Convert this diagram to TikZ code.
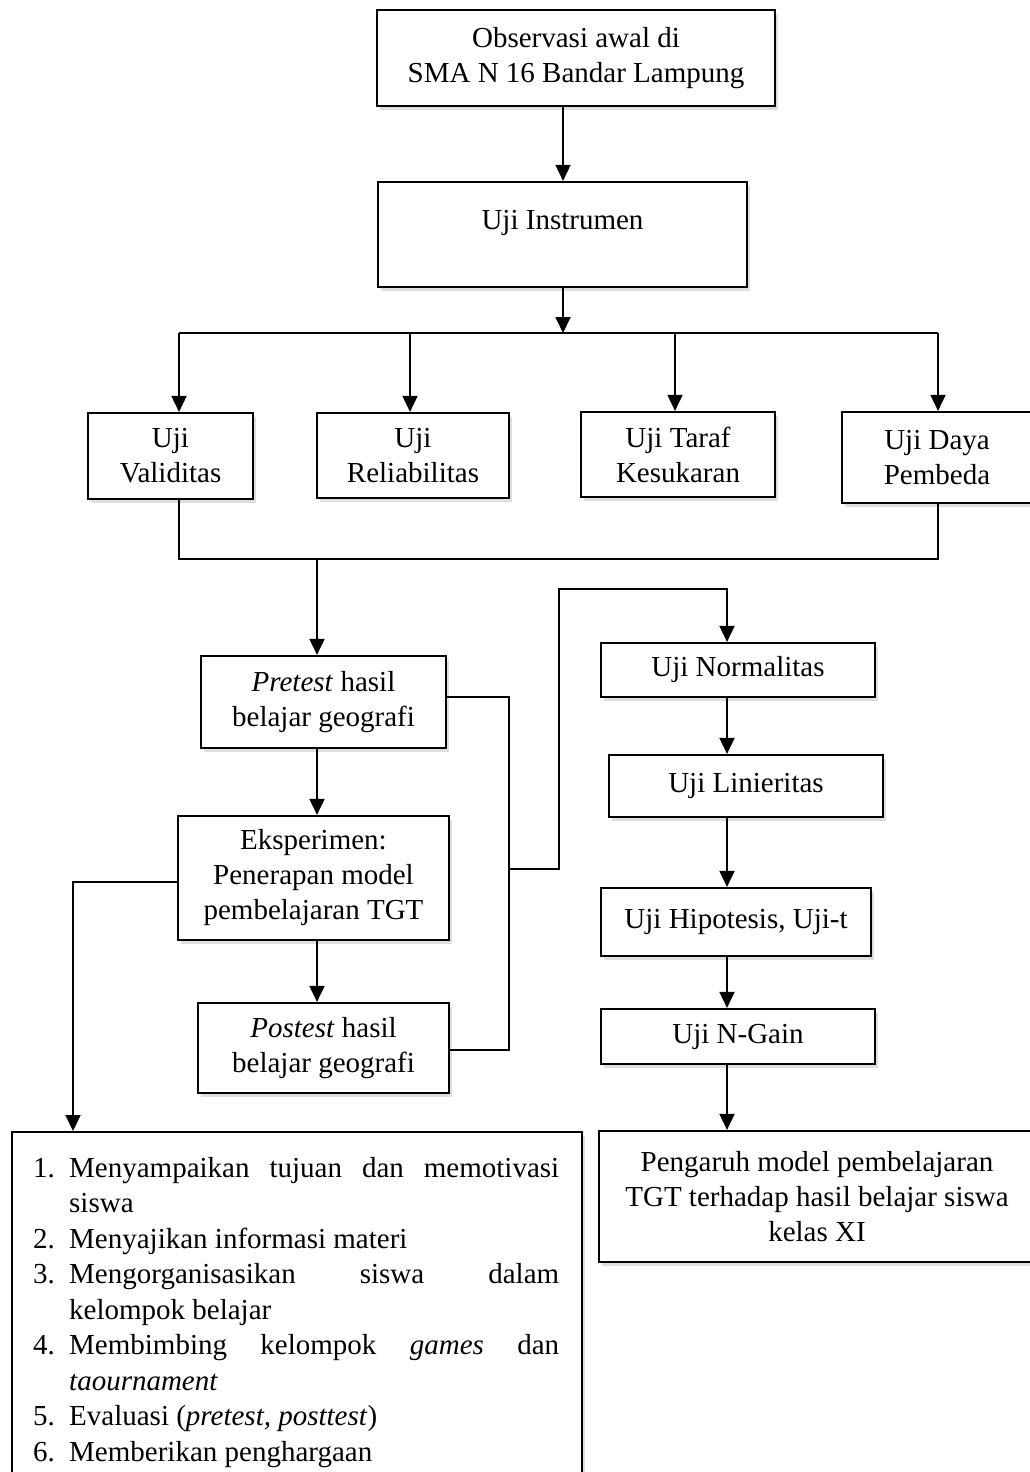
\documentclass[tikz,border=0pt]{standalone}
\usepackage{fontspec}
\setmainfont{Liberation Serif}
\usetikzlibrary{arrows.meta,shadows,calc}
\newcommand{\boxfont}{\fontsize{29}{35}\selectfont}
\newcommand{\listfont}{\fontsize{29}{35.5}\selectfont}
\newcommand{\itm}[1]{\hangindent=36pt\hangafter=1\noindent\makebox[36pt][l]{#1}}
\begin{document}
\begin{tikzpicture}[x=1pt,y=-1pt,
  box/.style={draw, line width=2.2pt, fill=white, inner sep=0pt, align=center, font=\boxfont,
    drop shadow={shadow xshift=3pt, shadow yshift=-4pt, fill=black, opacity=0.13}},
  conn/.style={line width=1.8pt},
  arr/.style={conn, -{Triangle[length=16pt,width=15pt]}}]
\useasboundingbox (0,0) rectangle (1030,1472);

% boxes
\node[box, minimum width=398pt, minimum height=96pt] (obs) at (576,58) {Observasi awal di\\SMA N 16 Bandar Lampung};
\node[box, minimum width=369pt, minimum height=105pt] (inst) at (562.5,234.5) {};
\node[font=\boxfont, inner sep=0pt] (insttxt) at (562.5,223) {Uji Instrumen};

\node[box, minimum width=165pt, minimum height=86pt] (val) at (170.5,456) {Uji\\Validitas};
\node[box, minimum width=192pt, minimum height=85pt] (rel) at (413,455.5) {Uji\\Reliabilitas};
\node[box, minimum width=194pt, minimum height=85pt] (taraf) at (678,454.5) {Uji Taraf\\Kesukaran};
\node[box, minimum width=190pt, minimum height=91pt] (daya) at (937,457.5) {Uji Daya\\Pembeda};

\node[box, minimum width=245pt, minimum height=92pt] (pre) at (323.5,702) {\textit{Pretest} hasil\\belajar geografi};
\node[box, minimum width=271pt, minimum height=124pt] (eks) at (313.5,878) {Eksperimen:\\Penerapan model\\pembelajaran TGT};
\node[box, minimum width=251pt, minimum height=90pt] (post) at (323.5,1048) {\textit{Postest} hasil\\belajar geografi};

\node[box, minimum width=274pt, minimum height=54pt] (norm) at (738,670) {Uji Normalitas};
\node[box, minimum width=274pt, minimum height=62pt] (lin) at (746,786) {Uji Linieritas};
\node[box, minimum width=270pt, minimum height=68pt] (hip) at (736,922) {Uji Hipotesis, Uji-t};
\node[box, minimum width=274pt, minimum height=55pt] (ngain) at (738,1036.5) {Uji N-Gain};
\node[box, minimum width=436pt, minimum height=131pt] (final) at (817,1196.5) {Pengaruh model pembelajaran\\TGT terhadap hasil belajar siswa\\kelas XI};

\node[box, minimum width=570pt, minimum height=360pt, anchor=north west] (lst) at (11,1131) {};
\node[anchor=base west, text width=526pt, inner sep=0pt, font=\listfont, align=justify] (lsttxt) at (33,1177) {%
\hyphenpenalty=10000 \exhyphenpenalty=10000 \tolerance=10000
\itm{1.}Menyampaikan tujuan dan memotivasi\linebreak siswa\par
\itm{2.}Menyajikan informasi materi\par
\itm{3.}Mengorganisasikan siswa dalam\linebreak kelompok belajar\par
\itm{4.}Membimbing kelompok \textit{games} dan\linebreak \textit{taournament}\par
\itm{5.}Evaluasi (\textit{pretest, posttest})\par
\itm{6.}Memberikan penghargaan\par};

% junction coordinates
\coordinate (split) at (563,333);
\coordinate (splitL) at (179,333);
\coordinate (splitR) at (938,333);
\coordinate (mergeL) at (179,559);
\coordinate (mergeR) at (938,559);
\coordinate (mergeD) at (317,559);
\coordinate (brT) at (509,697);
\coordinate (brB) at (509,1050);
\coordinate (brM) at (509,869);
\coordinate (rtA) at (559,869);
\coordinate (rtB) at (559,589);
\coordinate (rtC) at (727,589);
\coordinate (lfA) at (73,882);

% connectors
\draw[arr] (563,0 |- obs.south) -- (563,0 |- inst.north);
\draw[arr] (563,0 |- inst.south) -- (split);
\draw[conn] (splitL) -- (splitR);
\draw[arr] (splitL) -- (179,0 |- val.north);
\draw[arr] (410,333) -- (410,0 |- rel.north);
\draw[arr] (675,333) -- (675,0 |- taraf.north);
\draw[arr] (splitR) -- (938,0 |- daya.north);
\draw[conn] (179,0 |- val.south) -- (mergeL) -- (mergeR) -- (938,0 |- daya.south);
\draw[arr] (mergeD) -- (317,0 |- pre.north);
\draw[arr] (317,0 |- pre.south) -- (317,0 |- eks.north);
\draw[arr] (317,0 |- eks.south) -- (317,0 |- post.north);
\draw[conn] (pre.east |- brT) -- (brT) -- (brB) -- (post.east |- brB);
\draw[arr] (brM) -- (rtA) -- (rtB) -- (rtC) -- (727,0 |- norm.north);
\draw[arr] (727,0 |- norm.south) -- (727,0 |- lin.north);
\draw[arr] (727,0 |- lin.south) -- (727,0 |- hip.north);
\draw[arr] (727,0 |- hip.south) -- (727,0 |- ngain.north);
\draw[arr] (727,0 |- ngain.south) -- (727,0 |- final.north);
\draw[arr] (eks.west |- lfA) -- (lfA) -- (73,0 |- lst.north);
\end{tikzpicture}
\end{document}
